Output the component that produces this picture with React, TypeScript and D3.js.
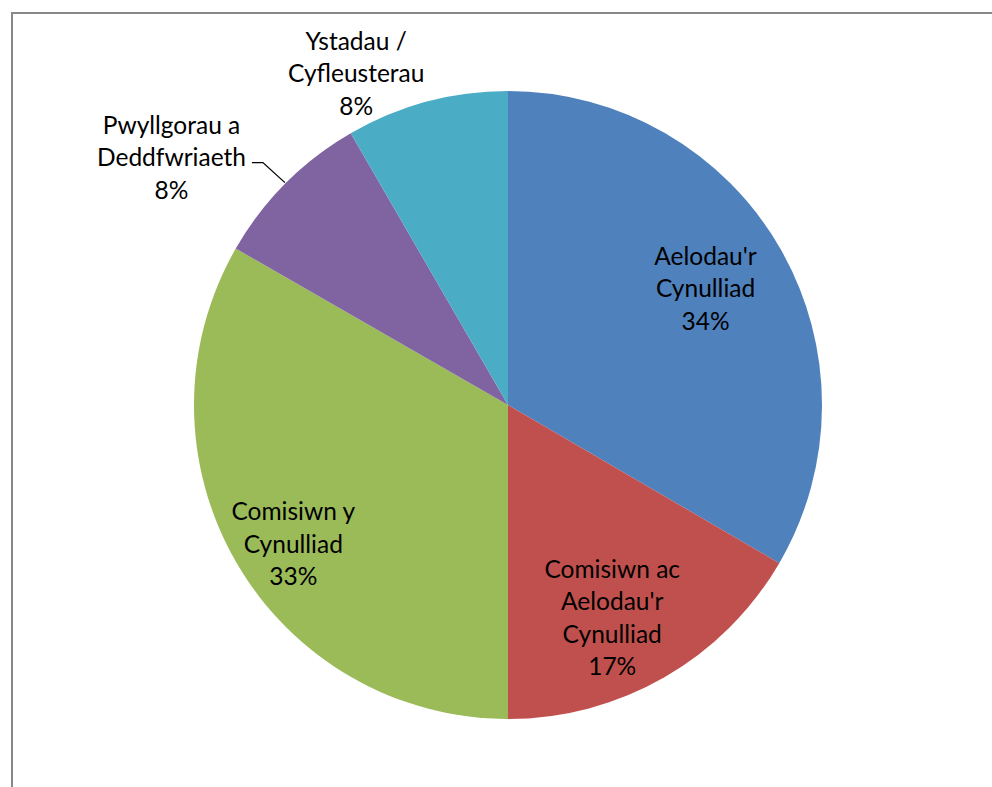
import { useMemo } from "react";
import * as d3 from "d3";

// slice data, clockwise from 12 o'clock
const categories = [
  ["Aelodau'r", "Cynulliad"],
  ["Comisiwn ac", "Aelodau'r", "Cynulliad"],
  ["Comisiwn y", "Cynulliad"],
  ["Pwyllgorau a", "Deddfwriaeth"],
  ["Ystadau /", "Cyfleusterau"],
];
const values = [33.4, 16.6, 33.3, 8.35, 8.35];
const percentLabels = ["34%", "17%", "33%", "8%", "8%"];
const colors = ["#4F81BD", "#C0504D", "#9BBB59", "#8064A2", "#4BACC6"];

// label placement: radius (as fraction of pie radius) and angle tweak (degrees)
const labelLayout = [
  { r: 0.73, da: -0.6 },
  { r: 0.755, da: 3.8 },
  { r: 0.815, da: -2.9 },
  { r: 1.33, da: -8.6 },
  { r: 1.16, da: -9.6 },
];

const W = 992;
const H = 787;
const cx = 508;
const cy = 405;
const R = 314;
const lineH = 32.5;
const font = "Lato, 'Open Sans', sans-serif";

export default function App() {
  const arcs = useMemo(() => {
    const pie = d3.pie<number>().sort(null).value((d) => d);
    return pie(values);
  }, []);

  const arc = d3.arc<d3.PieArcDatum<number>>().innerRadius(0).outerRadius(R);

  const polar = (angle: number, r: number) => [
    cx + r * Math.sin(angle),
    cy - r * Math.cos(angle),
  ];

  return (
    <svg
      width={W}
      height={H}
      style={{ position: "absolute", left: 0, top: 0, background: "#fff" }}
    >
      <rect x={12} y={13} width={W + 20} height={H + 20} fill="#fff" stroke="#888" strokeWidth={2} />
      <g transform={`translate(${cx},${cy})`}>
        {arcs.map((a, i) => (
          <path key={i} d={arc(a) || ""} fill={colors[i]} />
        ))}
      </g>

      {arcs.map((a, i) => {
        const mid = (a.startAngle + a.endAngle) / 2;
        const lay = labelLayout[i];
        const [lx, ly] = polar(mid + (lay.da * Math.PI) / 180, R * lay.r);
        const lines = [...categories[i], percentLabels[i]];
        const top = ly - ((lines.length - 1) * lineH) / 2;
        return (
          <text
            key={i}
            x={lx}
            textAnchor="middle"
            fontFamily={font}
            fontSize={24.5}
            fill="#000"
          >
            {lines.map((t, j) => (
              <tspan key={j} x={lx} y={top + j * lineH} dy="0.35em">
                {t}
              </tspan>
            ))}
          </text>
        );
      })}

      {/* leader line for the purple slice */}
      {(() => {
        const a = arcs[3];
        const mid = (a.startAngle + a.endAngle) / 2;
        const [ex, ey] = polar(mid, R + 1);
        const elbowX = ex - 22;
        const elbowY = ey - 20;
        return (
          <polyline
            points={`${elbowX - 11},${elbowY} ${elbowX},${elbowY} ${ex},${ey}`}
            fill="none"
            stroke="#000"
            strokeWidth={1.3}
          />
        );
      })()}
    </svg>
  );
}
